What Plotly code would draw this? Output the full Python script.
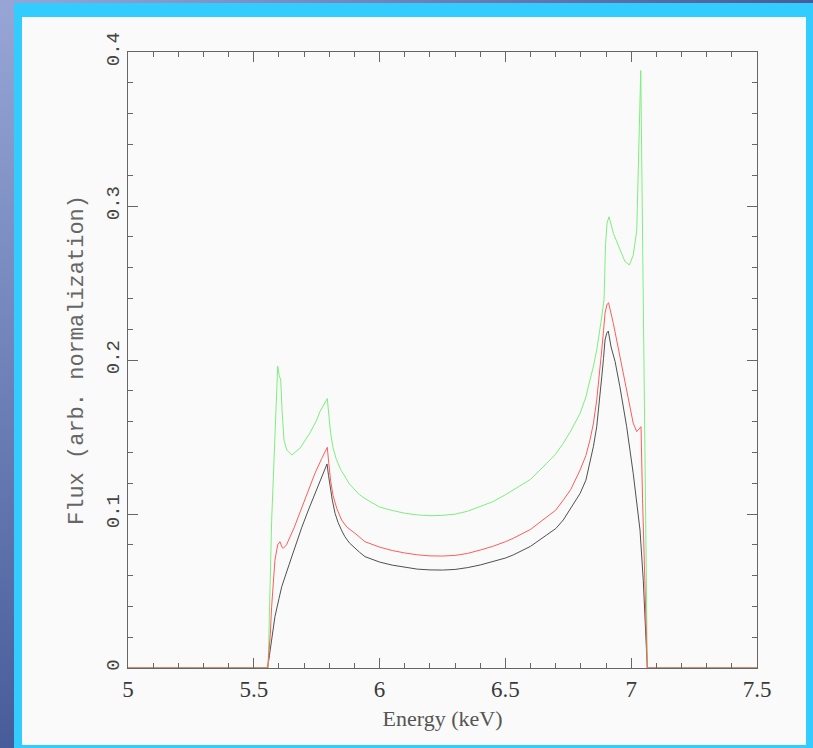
import base64
import plotly.graph_objects as go

# ---- data ----
black_e = [5.0, 5.555, 5.562, 5.571, 5.584, 5.6, 5.611, 5.64, 5.664, 5.69, 5.717, 5.745, 5.770, 5.791,
           5.797, 5.803, 5.812, 5.823, 5.835, 5.85, 5.862, 5.88, 5.902, 5.92, 5.942,
           6.0, 6.05, 6.1, 6.15, 6.2, 6.25, 6.3, 6.35, 6.4, 6.45, 6.5, 6.531, 6.6, 6.664, 6.7, 6.73, 6.76, 6.797,
           6.82, 6.836, 6.85, 6.863, 6.875, 6.883, 6.89, 6.896, 6.903, 6.909, 6.92, 6.936, 6.955, 6.982, 7.008,
           7.035, 7.048, 7.064, 7.5]
black_f = [0.0, 0.0, 0.008, 0.018, 0.0333, 0.045, 0.0528, 0.067, 0.0788, 0.091, 0.1026, 0.114, 0.1242, 0.1325,
           0.125, 0.1177, 0.109, 0.1004, 0.0945, 0.089, 0.0853, 0.0812, 0.0777, 0.0752, 0.0723,
           0.0688, 0.0668, 0.0653, 0.0642, 0.0637, 0.0636, 0.0640, 0.0652, 0.0669, 0.069, 0.0714, 0.0734, 0.079, 0.0864,
           0.0905, 0.0961, 0.1035, 0.1134, 0.122, 0.1329, 0.144, 0.1567, 0.174, 0.189, 0.201, 0.213, 0.2175, 0.2188,
           0.2085, 0.199, 0.1827, 0.1567, 0.1264, 0.0896, 0.057, 0.0, 0.0]

red_e = [5.0, 5.555, 5.565, 5.571, 5.584, 5.595, 5.604, 5.612, 5.617, 5.63, 5.66, 5.703, 5.743, 5.77, 5.792,
         5.798, 5.805, 5.815, 5.83, 5.849, 5.87, 5.902, 5.92, 5.942,
         6.0, 6.05, 6.1, 6.15, 6.2, 6.25, 6.3, 6.35, 6.4, 6.45, 6.5, 6.531, 6.6, 6.664, 6.7, 6.73, 6.76, 6.797,
         6.82, 6.836, 6.85, 6.863, 6.875, 6.883, 6.89, 6.896, 6.903, 6.91, 6.929, 6.955, 6.982, 7.008, 7.022,
         7.031, 7.039, 7.045, 7.055, 7.064, 7.5]
red_f = [0.0, 0.0, 0.02, 0.04, 0.07, 0.080, 0.082, 0.0785, 0.0777, 0.080, 0.091, 0.109, 0.1264, 0.136, 0.1433,
         0.133, 0.122, 0.112, 0.1035, 0.0961, 0.0915, 0.0875, 0.0848, 0.082,
         0.0785, 0.0763, 0.0747, 0.0735, 0.0728, 0.0727, 0.0731, 0.0744, 0.0766, 0.0790, 0.082, 0.0842, 0.0900, 0.0983,
         0.1025, 0.109, 0.116, 0.1286, 0.138, 0.148, 0.159, 0.174, 0.192, 0.2065, 0.219, 0.2303, 0.2357, 0.2372,
         0.2238, 0.2022, 0.1805, 0.159, 0.1535, 0.1556, 0.1567, 0.11, 0.044, 0.0, 0.0]

green_e = [5.0, 5.557, 5.571, 5.584, 5.595, 5.601, 5.607, 5.613, 5.62, 5.631, 5.651, 5.684, 5.723, 5.75, 5.763,
           5.792, 5.797, 5.805, 5.815, 5.828, 5.845, 5.862, 5.88, 5.902, 5.92, 5.942,
           6.0, 6.05, 6.1, 6.15, 6.2, 6.25, 6.3, 6.35, 6.4, 6.45, 6.5, 6.531, 6.6, 6.664, 6.7, 6.73, 6.76, 6.797,
           6.82, 6.836, 6.85, 6.863, 6.875, 6.883, 6.892, 6.898, 6.904, 6.912, 6.929, 6.955,
           6.975, 6.993, 7.008, 7.022, 7.03, 7.038, 7.064, 7.5]
green_f = [0.0, 0.0, 0.096, 0.157, 0.196, 0.19, 0.187, 0.1655, 0.148, 0.1416, 0.1383, 0.1428, 0.1526, 0.161, 0.1665,
           0.175, 0.165, 0.153, 0.143, 0.1355, 0.129, 0.1242, 0.1195, 0.1156, 0.1125, 0.110,
           0.1045, 0.1023, 0.1005, 0.0994, 0.0989, 0.0991, 0.0999, 0.1018, 0.1048, 0.108, 0.1125, 0.1156, 0.1225, 0.1329,
           0.139, 0.1459, 0.154, 0.1654, 0.176, 0.187, 0.196, 0.2065, 0.218, 0.228, 0.239, 0.275, 0.289, 0.293,
           0.2823, 0.2714, 0.264, 0.2617, 0.268, 0.284, 0.33, 0.388, 0.0, 0.0]

x_title = "Energy (keV)"
y_title = "Flux (arb. normalization)"

W, H = 813, 748
ML, MR, MT, MB = 128, 56, 52, 80

fig = go.Figure()
fig.add_trace(go.Scatter(x=black_e, y=black_f, mode="lines", line=dict(color="#505050", width=1), showlegend=False))
fig.add_trace(go.Scatter(x=green_e, y=green_f, mode="lines", line=dict(color="#7cf07c", width=1), showlegend=False))
fig.add_trace(go.Scatter(x=red_e, y=red_f, mode="lines", line=dict(color="#ff5c5c", width=1), showlegend=False))

# background gradient image
svg = ('<svg xmlns="http://www.w3.org/2000/svg" width="813" height="748">'
       '<defs><radialGradient id="g" cx="0" cy="0" r="1.1" gradientUnits="objectBoundingBox">'
       '<stop offset="0" stop-color="#97a6d6"/><stop offset="1" stop-color="#3f5594"/>'
       '</radialGradient></defs><rect width="813" height="748" fill="url(#g)"/></svg>')
src = "data:image/svg+xml;base64," + base64.b64encode(svg.encode()).decode()

pw = W - ML - MR
ph = H - MT - MB
def px(x):
    return (x - ML) / pw
def py(y):
    return 1 - (y - MT) / ph

fig.update_layout(
    width=W, height=H,
    margin=dict(l=ML, r=MR, t=MT, b=MB, pad=0),
    paper_bgcolor="#3f5594",
    plot_bgcolor="rgba(0,0,0,0)",
    images=[dict(source=src, xref="paper", yref="paper", x=px(0), y=py(0),
                 sizex=px(W) - px(0), sizey=py(0) - py(H), sizing="stretch",
                 xanchor="left", yanchor="top", layer="below")],
    shapes=[
        dict(type="rect", xref="paper", yref="paper", x0=px(14), x1=px(W + 2), y0=py(H + 2), y1=py(3),
             fillcolor="#33ccff", line=dict(width=0), layer="below"),
        dict(type="rect", xref="paper", yref="paper", x0=px(22), x1=px(806), y0=py(745), y1=py(17),
             fillcolor="#fafafa", line=dict(width=0), layer="below"),
    ],
    xaxis=dict(range=[5, 7.5], dtick=0.5, tick0=5, ticks="inside", ticklen=10, tickcolor="#666",
               showline=True, linecolor="#666", linewidth=1, mirror="allticks", showgrid=False, zeroline=False,
               minor=dict(dtick=0.1, ticks="inside", ticklen=5, tickcolor="#666"),
               tickfont=dict(family="Liberation Serif", size=23, color="#3a3a3a"),
               title=dict(text=x_title, font=dict(family="Liberation Serif", size=22, color="#555"), standoff=10)),
    yaxis=dict(range=[0, 0.4], dtick=0.1, tick0=0, ticks="inside", ticklen=10, tickcolor="#666",
               showline=True, linecolor="#666", linewidth=1, mirror="allticks", showgrid=False, zeroline=False,
               minor=dict(dtick=0.02, ticks="inside", ticklen=5, tickcolor="#666"),
               tickangle=-90,
               tickfont=dict(family="Liberation Mono", size=19, color="#444"),
               title=dict(text=y_title, font=dict(family="Liberation Mono", size=22, color="#666"), standoff=13)),
)

fig.write_html("out.html")
